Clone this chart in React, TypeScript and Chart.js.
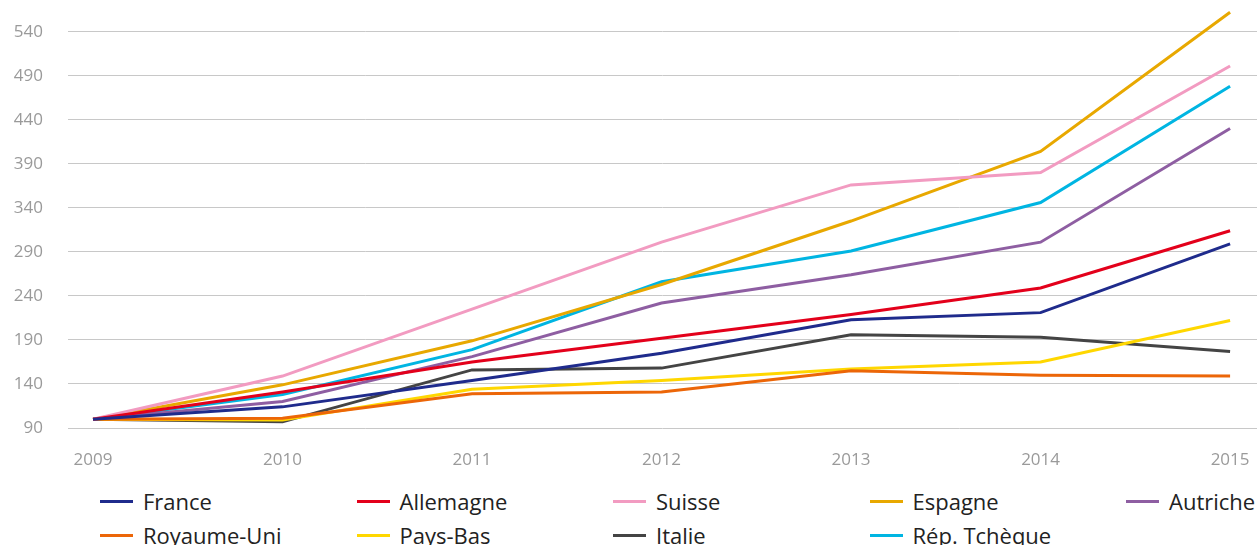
import React, { useEffect, useRef } from "react";
import { Chart, registerables } from "chart.js";

Chart.register(...registerables);

const years = [2009, 2010, 2011, 2012, 2013, 2014, 2015];
const yTicks = [90, 140, 190, 240, 290, 340, 390, 440, 490, 540];

const seriesNames = [
  "France",
  "Allemagne",
  "Suisse",
  "Espagne",
  "Autriche",
  "Royaume-Uni",
  "Pays-Bas",
  "Italie",
  "Rép. Tchèque",
];

const france = [100, 114, 144, 175, 213, 221, 299];
const allemagne = [100, 131, 165, 192, 219, 249, 314];
const suisse = [100, 149, 225, 301, 366, 380, 501];
const espagne = [100, 139, 189, 253, 325, 404, 562];
const autriche = [100, 120, 171, 232, 264, 301, 430];
const royaumeUni = [100, 101, 129, 131, 155, 150, 149];
const paysBas = [100, 99, 134, 144, 157, 165, 212];
const italie = [100, 97, 156, 158, 196, 193, 177];
const repTcheque = [100, 128, 179, 256, 291, 346, 478];

const seriesValues = [france, allemagne, suisse, espagne, autriche, royaumeUni, paysBas, italie, repTcheque];
const seriesColors = [
  "#1f2b8c",
  "#e3001b",
  "#f29bc1",
  "#e8a800",
  "#8e5ea2",
  "#ec6608",
  "#ffd700",
  "#444444",
  "#00b5e2",
];

const FONT = "'Open Sans', Lato, sans-serif";

export default function App() {
  const canvasRef = useRef<HTMLCanvasElement | null>(null);

  useEffect(() => {
    document.body.style.margin = "0";
    const canvas = canvasRef.current;
    if (!canvas) return;
    const chart = new Chart(canvas, {
      type: "line",
      data: {
        datasets: seriesNames.map((name, i) => ({
          label: name,
          data: seriesValues[i].map((v, j) => ({ x: years[j], y: v })),
          borderColor: seriesColors[i],
          backgroundColor: seriesColors[i],
          borderWidth: 3,
          pointRadius: 0,
          tension: 0,
          fill: false,
        })),
      },
      options: {
        responsive: false,
        animation: false,
        maintainAspectRatio: false,
        layout: { padding: 0 },
        plugins: {
          legend: { display: false },
          tooltip: { enabled: false },
        },
        scales: {
          x: {
            type: "linear",
            min: 2008.868,
            max: 2015.142,
            afterBuildTicks: (scale: any) => {
              scale.ticks = years.map((v) => ({ value: v }));
            },
            afterFit: (scale: any) => {
              scale.height = 52;
              scale.paddingLeft = 0;
              scale.paddingRight = 0;
            },
            grid: { display: false, drawTicks: false },
            border: { display: false },
            ticks: {
              padding: 22,
              color: "#9a9a9a",
              font: { family: FONT, size: 17 },
              callback: (v: any) => String(v),
              maxRotation: 0,
              autoSkip: false,
            },
          },
          y: {
            type: "linear",
            min: 90,
            max: 576,
            afterBuildTicks: (scale: any) => {
              scale.ticks = yTicks.map((v) => ({ value: v }));
            },
            afterFit: (scale: any) => {
              scale.width = 68;
              scale.paddingTop = 0;
              scale.paddingBottom = 0;
            },
            grid: { color: "#c8c8c8", lineWidth: 1, drawTicks: false },
            border: { display: false },
            ticks: {
              padding: 25,
              color: "#9a9a9a",
              font: { family: FONT, size: 17 },
              callback: (v: any) => String(v),
            },
          },
        },
      },
    });
    return () => chart.destroy();
  }, []);

  return (
    <div style={{ position: "relative", width: 1257, height: 545, overflow: "hidden", background: "#fff" }}>
      <canvas ref={canvasRef} width={1257} height={480} style={{ display: "block" }} />
      {seriesNames.map((name, i) => {
        const col = i % 5;
        const row = Math.floor(i / 5);
        const left = 100 + col * 256.5;
        const top = 501 + row * 34;
        return (
          <div
            key={name}
            style={{
              position: "absolute",
              left,
              top: top - 15,
              height: 30,
              display: "flex",
              alignItems: "center",
              whiteSpace: "nowrap",
              fontFamily: FONT,
              fontSize: 22,
              color: "#222",
            }}
          >
            <span style={{ display: "inline-block", width: 33, height: 3, background: seriesColors[i], marginRight: 10 }} />
            <span>{name}</span>
          </div>
        );
      })}
    </div>
  );
}
